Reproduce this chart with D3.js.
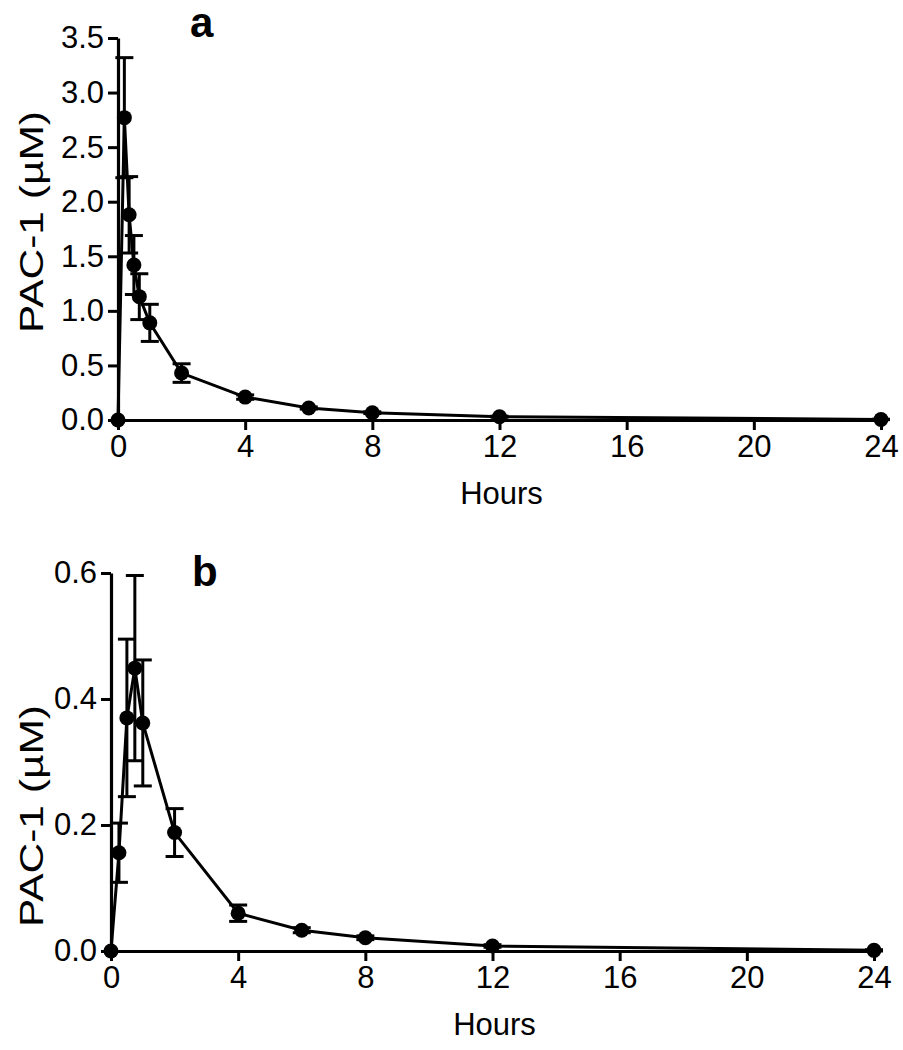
<!DOCTYPE html>
<html>
<head>
<meta charset="utf-8">
<script src="https://cdn.jsdelivr.net/npm/d3@7"></script>
<style>
  html, body { margin: 0; padding: 0; background: #fff; }
  svg { display: block; }
  text { font-family: "Liberation Sans", Arial, Helvetica, sans-serif; fill: #000; }
</style>
</head>
<body>
<svg id="chart" width="903" height="1050"></svg>
<script>
// ---- Data ----
const hourTicks = [0, 4, 8, 12, 16, 20, 24];

const timesA = [0, 0.2, 0.35, 0.5, 0.67, 1, 2, 4, 6, 8, 12, 24];
const meanA  = [0, 2.77, 1.88, 1.42, 1.13, 0.89, 0.43, 0.21, 0.11, 0.067, 0.03, 0.005];
const sdA    = [0, 0.55, 0.35, 0.27, 0.21, 0.17, 0.085, 0.02, 0.01, 0.008, 0.005, 0.002];
const yTicksA = [0, 0.5, 1.0, 1.5, 2.0, 2.5, 3.0, 3.5];

const timesB = [0, 0.25, 0.5, 0.75, 1, 2, 4, 6, 8, 12, 24];
const meanB  = [0, 0.156, 0.370, 0.449, 0.362, 0.188, 0.060, 0.033, 0.021, 0.008, 0.001];
const sdB    = [0, 0.047, 0.125, 0.147, 0.100, 0.038, 0.013, 0.004, 0.003, 0.002, 0.001];
const yTicksB = [0, 0.2, 0.4, 0.6];

const yLabel = "PAC-1 (\u00B5M)";
const xLabel = "Hours";

// ---- Panels ----
const panels = [
  { letter: "a", times: timesA, mean: meanA, sd: sdA, yTicks: yTicksA, yMax: 3.5,
    left: 118, right: 881, top: 38, bottom: 420, letterX: 190, letterY: 37, yLabelY: 222 },
  { letter: "b", times: timesB, mean: meanB, sd: sdB, yTicks: yTicksB, yMax: 0.6,
    left: 111, right: 874, top: 573, bottom: 951, letterX: 192, letterY: 586, yLabelY: 816 }
];

const svg = d3.select("#chart");

panels.forEach(p => {
  const x = d3.scaleLinear().domain([0, 24]).range([p.left, p.right]);
  const y = d3.scaleLinear().domain([0, p.yMax]).range([p.bottom, p.top]);
  const g = svg.append("g");

  // y axis
  const yAxis = d3.axisLeft(y).tickValues(p.yTicks).tickFormat(d3.format(".1f"))
    .tickSize(10).tickSizeOuter(0).tickPadding(4);
  const ya = g.append("g").attr("transform", `translate(${p.left},0)`).call(yAxis);
  ya.selectAll("path.domain").attr("stroke", "#000").attr("stroke-width", 3.2);
  ya.selectAll(".tick line").attr("stroke", "#000").attr("stroke-width", 3);
  ya.selectAll(".tick text").attr("font-size", 31).attr("font-family", "Liberation Sans, Arial, sans-serif").attr("fill", "#000");

  // x axis
  const xAxis = d3.axisBottom(x).tickValues(hourTicks).tickFormat(d3.format("d"))
    .tickSize(10).tickSizeOuter(0).tickPadding(5);
  const xa = g.append("g").attr("transform", `translate(0,${p.bottom})`).call(xAxis);
  xa.selectAll("path.domain").attr("stroke", "#000").attr("stroke-width", 3.2);
  xa.selectAll(".tick line").attr("stroke", "#000").attr("stroke-width", 3);
  xa.selectAll(".tick text").attr("font-size", 31).attr("font-family", "Liberation Sans, Arial, sans-serif").attr("fill", "#000");

  // axis labels
  g.append("text")
    .attr("x", (p.left + p.right) / 2 + 2)
    .attr("y", p.bottom + 84)
    .attr("text-anchor", "middle")
    .attr("font-size", 31)
    .text(xLabel);

  g.append("text")
    .attr("transform", `translate(43,${p.yLabelY}) rotate(-90)`)
    .attr("text-anchor", "middle")
    .attr("font-size", 33)
    .attr("textLength", 222)
    .attr("lengthAdjust", "spacingAndGlyphs")
    .text(yLabel);

  // panel letter
  g.append("text")
    .attr("x", p.letterX).attr("y", p.letterY)
    .attr("font-size", 42).attr("font-weight", "bold")
    .text(p.letter);

  const data = p.times.map((t, i) => ({ t, m: p.mean[i], s: p.sd[i] }));

  // error bars
  const eb = g.append("g").attr("stroke", "#000").attr("stroke-width", 3);
  data.filter(d => d.s > 0).forEach(d => {
    const cx = x(d.t);
    eb.append("line").attr("x1", cx).attr("x2", cx).attr("y1", y(d.m + d.s)).attr("y2", y(Math.max(0, d.m - d.s)));
    eb.append("line").attr("x1", cx - 9).attr("x2", cx + 9).attr("y1", y(d.m + d.s)).attr("y2", y(d.m + d.s));
    eb.append("line").attr("x1", cx - 9).attr("x2", cx + 9).attr("y1", y(Math.max(0, d.m - d.s))).attr("y2", y(Math.max(0, d.m - d.s)));
  });

  // line
  g.append("path").datum(data)
    .attr("fill", "none").attr("stroke", "#000").attr("stroke-width", 3)
    .attr("d", d3.line().x(d => x(d.t)).y(d => y(d.m)));

  // markers
  g.selectAll("circle.pt").data(data).enter().append("circle")
    .attr("class", "pt")
    .attr("cx", d => x(d.t)).attr("cy", d => y(d.m)).attr("r", 7.5)
    .attr("fill", "#000");
});
</script>
</body>
</html>
